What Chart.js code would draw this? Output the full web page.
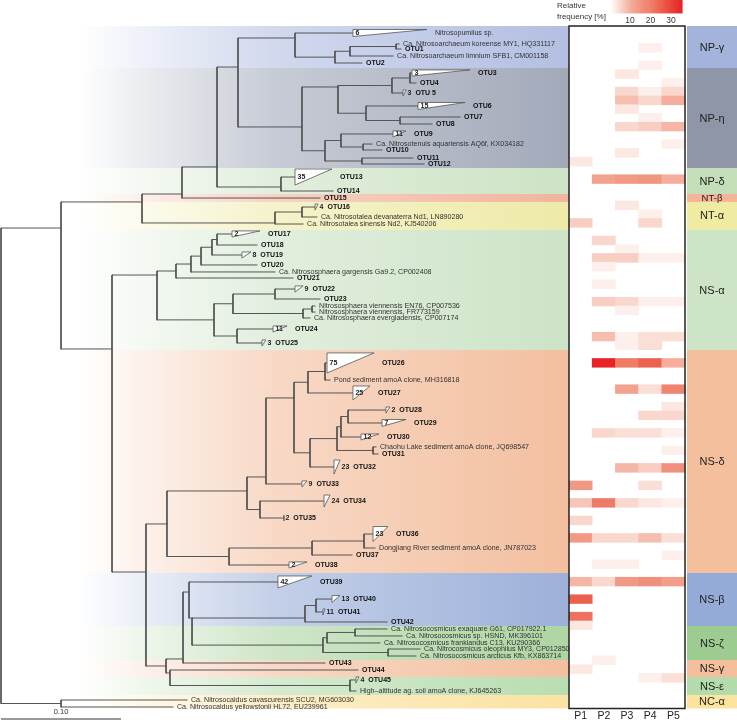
<!DOCTYPE html>
<html>
<head>
<meta charset="utf-8">
<script src="https://cdn.jsdelivr.net/npm/chart.js@4.4.1/dist/chart.umd.min.js"></script>
<style>
  html, body { margin: 0; padding: 0; background: #fff; }
  canvas { display: block; }
</style>
</head>
<body>
<canvas id="tree" width="737" height="722"></canvas>
<script>
// leaves, top to bottom
const leafNames = [
  'Nitrosopumilus sp.', 'Ca. Nitrosoarchaeum koreense MY1, HQ331117', 'OTU1',
  'Ca. Nitrosoarchaeum limnium SFB1, CM001158', 'OTU2', 'OTU3', 'OTU4', 'OTU 5', 'OTU6', 'OTU7',
  'OTU8', 'OTU9', 'Ca. Nitrosotenuis aquariensis AQ6f, KX034182', 'OTU10', 'OTU11', 'OTU12',
  'OTU13', 'OTU14', 'OTU15', 'OTU16', 'Ca. Nitrosotalea devanaterra Nd1, LN890280',
  'Ca. Nitrosotalea sinensis Nd2, KJ540206', 'OTU17', 'OTU18', 'OTU19', 'OTU20',
  'Ca. Nitrososphaera gargensis Ga9.2, CP002408', 'OTU21', 'OTU22', 'OTU23',
  'Nitrososphaera viennensis EN76, CP007536', 'Nitrososphaera viennensis, FR773159',
  'Ca. Nitrososphaera evergladensis, CP007174', 'OTU24', 'OTU25', 'OTU26',
  'Pond sediment amoA clone, MH316818', 'OTU27', 'OTU28', 'OTU29', 'OTU30',
  'Chaohu Lake sediment amoA clone, JQ698547', 'OTU31', 'OTU32', 'OTU33', 'OTU34', 'OTU35',
  'OTU36', 'Dongjiang River sediment amoA clone, JN787023', 'OTU37', 'OTU38', 'OTU39', 'OTU40',
  'OTU41', 'OTU42', 'Ca. Nitrosocosmicus exaquare G61, CP017922.1',
  'Ca. Nitrosocosmicus sp. HSND, MK396101', 'Ca. Nitrosocosmicus franklandus C13, KU290366',
  'Ca. Nitrocosmicus oleophilus MY3, CP012850', 'Ca. Nitrosocosmicus arcticus Kfb, KX863714',
  'OTU43', 'OTU44', 'OTU45', 'High\u2013altitude ag. soil amoA clone, KJ645263',
  'Ca. Nitrosocaldus cavascurensis SCU2, MG603030', 'Ca. Nitrosocaldus yellowstonii HL72, EU239961'
]
// vertical slot of each leaf, in heatmap row units
const leafY = [
  0.8, 2.06, 2.63, 3.43, 4.23, 5.37, 6.51, 7.66, 9.14, 10.4,
  11.2, 12.34, 13.49, 14.17, 15.09, 15.77, 17.26, 18.86, 19.66, 20.69,
  21.83, 22.63, 23.77, 25.03, 26.17, 27.31, 28.11, 28.8, 30.06, 31.2,
  32, 32.69, 33.37, 34.63, 36.23, 38.51, 40.46, 41.94, 43.89, 45.37,
  46.97, 48.11, 48.91, 50.4, 52.34, 54.29, 56.23, 58.06, 59.66, 60.46,
  61.6, 63.54, 65.49, 66.97, 68.11, 68.91, 69.71, 70.51, 71.2, 72,
  72.8, 73.6, 74.74, 76, 77.03, 77.83
]
// distance from root to each tip (substitutions per site)
const leafDepth = [
  0.2933, 0.3317, 0.3333, 0.3267, 0.3008, 0.3425, 0.3458, 0.335, 0.3475, 0.3825,
  0.3592, 0.3267, 0.3092, 0.3175, 0.3433, 0.3525, 0.245, 0.2767, 0.2658, 0.2617,
  0.2633, 0.2517, 0.1925, 0.2133, 0.2008, 0.2133, 0.2283, 0.2433, 0.245, 0.2658,
  0.2617, 0.2617, 0.2575, 0.2267, 0.2175, 0.2717, 0.2742, 0.2933, 0.3208, 0.3175,
  0.30, 0.3125, 0.3142, 0.2775, 0.2508, 0.2692, 0.2358, 0.31, 0.3117, 0.2925,
  0.24, 0.2308, 0.2758, 0.2683, 0.3217, 0.3217, 0.3342, 0.3158, 0.3492, 0.3458,
  0.27, 0.2975, 0.2958, 0.2958, 0.155, 0.1433
]
// collapsed clades: leaf index, number of sequences, clade depth, clade height (rows)
const collapsedLeaf = [0, 5, 7, 8, 11, 16, 19, 22, 24, 28, 33, 34, 35, 37, 38, 39, 40, 43, 44, 45, 46, 47, 50, 51, 52, 53, 62]
const collapsedCount = [6, 3, 3, 15, 11, 35, 4, 2, 8, 9, 11, 3, 75, 25, 2, 7, 12, 23, 9, 24, 2, 23, 2, 42, 13, 11, 4]
const collapsedWidth = [0.0617, 0.0483, 0.0025, 0.0392, 0.0108, 0.0308, 0.0025, 0.0233, 0.0075, 0.0067, 0.0117, 0.0033, 0.0392, 0.0142, 0.0033, 0.02, 0.015, 0.005, 0.0042, 0.005, 0, 0.0125, 0.015, 0.0283, 0.0067, 0.0017, 0.0025]
const collapsedHeight = [0.8, 0.7, 0.7, 0.8, 0.7, 1.83, 0.7, 0.7, 0.7, 0.7, 0.7, 0.7, 2.29, 1.6, 0.7, 0.8, 0.7, 1.6, 0.7, 1.37, 0.7, 1.71, 0.7, 1.37, 0.8, 0.7, 0.7]

// internal nodes: [depth, node row (null = middle of children), ...children]
const npGamma = [0.245, 1.37, 0, [0.2783, null, [0.2908, null, [0.3292, null, 1, 2], 3], 4]]
const npEta = [0.2508, 11.54,
  [0.2808, 6.97, [0.3258, null, [0.3408, null, 5, 6], 7], [0.3042, null, 8, [0.3325, null, 9, 10]]],
  [0.27, null, [0.2833, null, 11, [0.3017, null, 12, 13]], [0.3008, null, 14, 15]]]
const npDelta = [0.2333, 18.4, 16, 17]
const ntAlpha = [0.2283, 22.51, [0.2508, null, 19, 20], 21]
const nsAlpha = [0.13, 28.46,
  [0.1458, null, [0.1583, null, [0.1667, null, [0.1758, null, [0.18, null, 22, 23], 24], 25], 26], 27],
  [0.1775, null,
    [0.1933, null, [0.2283, null, 28, 29], [0.2517, null, [0.2592, null, 30, 31], 32]],
    [0.1967, null, 33, 34]]]
const nsDelta = [0.1383, 56.91,
  [0.205, 53.14,
    [0.2208, 51.54,
      [0.2442, 42.51,
        [0.2558, null, [0.27, null, 35, 36], 37],
        [0.2575, null, [0.28, null, [0.2833, null, [0.2892, null, 38, 39], 40], [0.31, null, 41, 42]], 43]],
      44],
    [0.2158, null, 45, 46]],
  [0.19, null, [0.2592, null, [0.3025, null, 47, 48], 49], 50]]
const nsOthers = [0.1375, null,
  [0.1517, 72.34,
    [0.1567, 64.69, 51,
      [0.1592, 67.66,
        [0.2533, 67.66, [0.2625, null, 52, 53], 54],
        [0.2683, null, [0.2717, null, [0.295, null, 55, 56], 57], [0.3225, null, 58, 59]]]],
    60],
  [0.1408, 73.94, 61, [0.2908, null, 62, 63]]]
const ncAlpha = [0.05, null, 64, 65]
const tree = [0, null,
  [0.05, 23.09,
    [0.1175, 20.11, [0.1508, 19.2, [0.18, 16.11, [0.1975, 4.69, npGamma, npEta], npDelta], 18], ntAlpha],
    [0.0925, 36.91, nsAlpha, [0.1208, 62.4, nsDelta, nsOthers]]],
  ncAlpha]
const scaleBarLength = 0.1

// heatmap: relative frequency [%] per row and sample
const samples = ['P1', 'P2', 'P3', 'P4', 'P5']
const heatRowCount = 78
const heatRows = [2, 4, 5, 6, 7, 8, 9, 10, 11, 13, 14, 15, 17, 20, 21, 22, 24, 25, 26, 27, 29, 31, 32, 35, 36, 38, 41, 43, 44, 46, 48, 50, 52, 54, 56, 58, 60, 61, 63, 65, 67, 68, 72, 73, 74]
const p1 = [0, 0, 0, 0, 0, 0, 0, 0, 0, 0, 0, 3, 0, 0, 0, 6, 0, 0, 0, 0, 0, 0, 0, 0, 0, 0, 0, 0, 0, 0, 0, 0, 14, 7, 5, 14, 0, 0, 9, 25, 22, 3, 0, 3, 0]
const p2 = [0, 0, 0, 0, 0, 0, 0, 0, 0, 0, 0, 0, 12, 0, 0, 0, 5, 0, 6, 2, 2, 6, 0, 8, 0, 35, 0, 0, 0, 5, 0, 0, 0, 20, 0, 5, 0, 2, 5, 0, 0, 0, 2, 0, 0]
const p3 = [0, 0, 3, 0, 5, 8, 3, 0, 5, 0, 3, 0, 14, 3, 0, 0, 0, 2, 6, 0, 0, 5, 2, 2, 2, 20, 12, 0, 0, 4, 0, 9, 0, 5, 0, 5, 0, 2, 14, 0, 0, 0, 0, 0, 0]
const p4 = [2, 2, 0, 0, 2, 5, 0, 2, 6, 0, 0, 0, 15, 0, 2, 5, 0, 0, 2, 0, 0, 2, 0, 4, 4, 25, 4, 0, 5, 4, 0, 6, 4, 3, 0, 8, 0, 0, 16, 0, 0, 0, 0, 0, 2]
const p5 = [0, 0, 0, 2, 5, 10, 0, 0, 9, 2, 0, 0, 10, 0, 0, 0, 0, 0, 2, 0, 0, 2, 0, 4, 0, 10, 18, 3, 5, 2, 2, 16, 0, 2, 0, 4, 2, 0, 13, 0, 0, 0, 0, 0, 4]
const freqMax = 35
const freqTicks = [10, 20, 30]

// clades (row ranges)
const cladeNames = ['NP-\u03b3', 'NP-\u03b7', 'NP-\u03b4', 'NT-\u03b2', 'NT-\u03b1', 'NS-\u03b1', 'NS-\u03b4', 'NS-\u03b2', 'NS-\u03b6', 'NS-\u03b3', 'NS-\u03b5', 'NC-\u03b1']
const cladeStart = [0, 4.8, 16.23, 19.2, 20.11, 23.31, 37.03, 62.51, 68.57, 72.46, 74.4, 76.46]
const cladeEnd = [4.8, 16.23, 19.2, 20.11, 23.31, 37.03, 62.51, 68.57, 72.46, 74.4, 76.46, 78]
const cladeColors = ['#b3bfe2', '#a2a9b9', '#cde3c5', '#f1b49c', '#eeeaa8', '#cde3c7', '#f3bf9f', '#9cb0d9', '#aed5a3', '#f3bf9f', '#b9ddb0', '#fbe2a2']
const cladeBoxColors = ['#a3b3dc', '#8f96a8', '#c4deb9', '#f3b497', '#efeba3', '#cde4c7', '#f4bf9c', '#94aad7', '#9dcc90', '#f4bf9c', '#b4dbab', '#fde49e']

// ---- layout ----
const FONT = "'Liberation Sans', Arial, sans-serif"
Chart.defaults.font.family = FONT
const ROW_PX = 8.75, TOP_PX = 26
const rowAt = p => (p - TOP_PX) / ROW_PX
const DEPTH_PX = 1200            // 0.10 = 120 px
const HEAT_LEFT = 569, COL_PX = 23.2
const RAMP_LEFT = 609.5, RAMP_PX = 2.05
const CLADE_LEFT = 687

function alpha(hex, a) {
  const n = parseInt(hex.slice(1), 16)
  return `rgba(${n >> 16}, ${(n >> 8) & 255}, ${n & 255}, ${a})`
}
const rampStops = [[0, [255, 255, 255]], [0.3, [243, 170, 150]], [0.7, [236, 100, 80]], [1, [232, 35, 40]]]
function heatColor(v) {
  const t = Math.max(0, Math.min(1, v / freqMax))
  for (let i = 1; i < rampStops.length; i++) {
    const [t0, c0] = rampStops[i - 1]
    const [t1, c1] = rampStops[i]
    if (t <= t1) {
      const f = (t - t0) / (t1 - t0)
      return `rgb(${c0.map((c, k) => Math.round(c + (c1[k] - c) * f))})`
    }
  }
}

// branches as one broken polyline
const branchPoints = []
const depthOf = n => typeof n === 'number' ? leafDepth[n] : n[0]
function layout(node) {
  if (typeof node === 'number') return leafY[node]
  const [d, fixedY, ...kids] = node
  const ys = kids.map(layout)
  const y = fixedY ?? (ys[0] + ys[ys.length - 1]) / 2
  branchPoints.push({ x: d, y: Math.min(y, ...ys) }, { x: d, y: Math.max(y, ...ys) }, { x: NaN, y: NaN })
  kids.forEach((k, i) => {
    branchPoints.push({ x: d, y: ys[i] }, { x: depthOf(k), y: ys[i] }, { x: NaN, y: NaN })
  })
  return y
}
layout(tree)

const heatCells = [], heatColors = []
;[p1, p2, p3, p4, p5].forEach((col, c) => col.forEach((v, i) => {
  if (v > 0) {
    heatCells.push({ x: c + 0.5, y: [heatRows[i], heatRows[i] + 1] })
    heatColors.push(heatColor(v))
  }
}))

const rampCells = [], rampColors = []
for (let v = 0; v < freqMax; v += 0.5) {
  rampCells.push({ x: v + 0.25, y: [rowAt(0), rowAt(13)] })
  rampColors.push(heatColor(v + 0.25))
}

const decor = {
  id: 'decor',
  beforeDatasetsDraw(chart) {
    const { ctx, scales: { y, xh } } = chart
    const bandLeft = 78, bandRight = xh.getPixelForValue(0)
    ctx.save()
    cladeNames.forEach((name, i) => {
      const y0 = y.getPixelForValue(cladeStart[i]), y1 = y.getPixelForValue(cladeEnd[i])
      const g = ctx.createLinearGradient(bandLeft, 0, bandRight, 0)
      g.addColorStop(0, alpha(cladeColors[i], 0))
      g.addColorStop(0.12, alpha(cladeColors[i], 0.2))
      g.addColorStop(0.4, alpha(cladeColors[i], 0.6))
      g.addColorStop(1, alpha(cladeColors[i], 1))
      ctx.fillStyle = g
      ctx.fillRect(bandLeft, y0, bandRight - bandLeft, y1 - y0)
      ctx.fillStyle = cladeBoxColors[i]
      ctx.fillRect(CLADE_LEFT, y0, chart.width - CLADE_LEFT, y1 - y0)
    })
    const top = y.getPixelForValue(0), bottom = y.getPixelForValue(heatRowCount)
    ctx.fillStyle = '#fff'
    ctx.fillRect(bandRight, top, xh.getPixelForValue(samples.length) - bandRight, bottom - top)
    ctx.restore()
  },
  afterDatasetsDraw(chart) {
    const { ctx, scales: { x, y, xh, xc } } = chart
    ctx.save()
    ctx.textBaseline = 'middle'
    ctx.textAlign = 'left'
    leafNames.forEach((name, i) => {
      const x0 = x.getPixelForValue(leafDepth[i]), yc = y.getPixelForValue(leafY[i])
      let textX = x0 + 4
      const k = collapsedLeaf.indexOf(i)
      if (k >= 0) {
        const x1 = x.getPixelForValue(leafDepth[i] + collapsedWidth[k])
        const yt = y.getPixelForValue(leafY[i] - collapsedHeight[k] / 2)
        const yb = y.getPixelForValue(leafY[i] + collapsedHeight[k] / 2)
        ctx.beginPath()
        ctx.moveTo(x0, yb); ctx.lineTo(x0, yt); ctx.lineTo(x1, yt); ctx.closePath()
        ctx.fillStyle = '#fff'; ctx.fill()
        ctx.strokeStyle = '#555'; ctx.lineWidth = 0.8; ctx.stroke()
        ctx.font = `bold 7px ${FONT}`
        ctx.fillStyle = '#222'
        const n = String(collapsedCount[k])
        if (x1 - x0 >= 12) {
          ctx.fillText(n, x0 + 2.5, yc)
          textX = x1 + 8
        } else {
          ctx.fillText(n, x1 + 1.5, yc)
          textX = x1 + 1.5 + ctx.measureText(n).width + 4
        }
      }
      const otu = name.startsWith('OTU')
      ctx.font = otu ? `bold 7px ${FONT}` : `7.1px ${FONT}`
      ctx.fillStyle = otu ? '#111' : '#333'
      ctx.fillText(name, textX, yc)
    })

    // heatmap frame and sample labels
    const left = xh.getPixelForValue(0), right = xh.getPixelForValue(samples.length)
    const top = y.getPixelForValue(0), bottom = y.getPixelForValue(heatRowCount)
    ctx.strokeStyle = '#222'; ctx.lineWidth = 1.5
    ctx.strokeRect(left, top, right - left, bottom - top)
    ctx.textAlign = 'center'
    ctx.font = `10.5px ${FONT}`
    ctx.fillStyle = '#222'
    samples.forEach((s, c) => ctx.fillText(s, xh.getPixelForValue(c + 0.5), 716))

    // clade names
    cladeNames.forEach((name, i) => {
      const y0 = y.getPixelForValue(cladeStart[i]), y1 = y.getPixelForValue(cladeEnd[i])
      ctx.font = `${y1 - y0 < 12 ? 9.5 : 11}px ${FONT}`
      ctx.fillStyle = '#222'
      ctx.fillText(name, (CLADE_LEFT + chart.width) / 2, (y0 + y1) / 2 + 0.5)
    })

    // colour ramp ticks and title
    ctx.font = `8.5px ${FONT}`
    ctx.fillStyle = '#333'
    freqTicks.forEach(t => ctx.fillText(String(t), xc.getPixelForValue(t), 21))
    ctx.textAlign = 'left'
    ctx.font = `8px ${FONT}`
    ctx.fillText('Relative', 557, 6)
    ctx.fillText('frequency [%]', 557, 17)

    // scale bar label
    ctx.textAlign = 'center'
    ctx.font = `7.5px ${FONT}`
    ctx.fillText(scaleBarLength.toFixed(2), x.getPixelForValue(scaleBarLength / 2), 712)
    ctx.restore()
  }
}

new Chart(document.getElementById('tree'), {
  type: 'scatter',
  data: {
    datasets: [
      {
        label: 'branches', data: branchPoints, showLine: true, spanGaps: false,
        borderColor: '#555', borderWidth: 1, borderCapStyle: 'square', pointRadius: 0,
        xAxisID: 'x', yAxisID: 'y'
      },
      {
        label: 'scale bar', showLine: true, borderColor: '#333', borderWidth: 1, pointRadius: 0,
        data: [{ x: 0, y: rowAt(719) }, { x: scaleBarLength, y: rowAt(719) }],
        xAxisID: 'x', yAxisID: 'y'
      },
      {
        type: 'bar', label: 'relative frequency', data: heatCells, backgroundColor: heatColors,
        barThickness: COL_PX, borderWidth: 0, xAxisID: 'xh', yAxisID: 'y'
      },
      {
        type: 'bar', label: 'ramp', data: rampCells, backgroundColor: rampColors,
        barThickness: RAMP_PX * 0.5, borderWidth: 0, xAxisID: 'xc', yAxisID: 'y'
      }
    ]
  },
  options: {
    responsive: false,
    animation: false,
    devicePixelRatio: 1,
    events: [],
    layout: { padding: 0, autoPadding: false },
    plugins: { legend: { display: false }, tooltip: { enabled: false } },
    scales: {
      x: { type: 'linear', display: false, offset: false, min: -1 / DEPTH_PX, max: 736 / DEPTH_PX },
      y: { type: 'linear', display: false, offset: false, reverse: true, min: rowAt(0), max: rowAt(722) },
      xh: { type: 'linear', axis: 'x', display: false, offset: false, min: -HEAT_LEFT / COL_PX, max: (737 - HEAT_LEFT) / COL_PX },
      xc: { type: 'linear', axis: 'x', display: false, offset: false, min: -RAMP_LEFT / RAMP_PX, max: (737 - RAMP_LEFT) / RAMP_PX }
    }
  },
  plugins: [decor]
})
</script>
</body>
</html>
